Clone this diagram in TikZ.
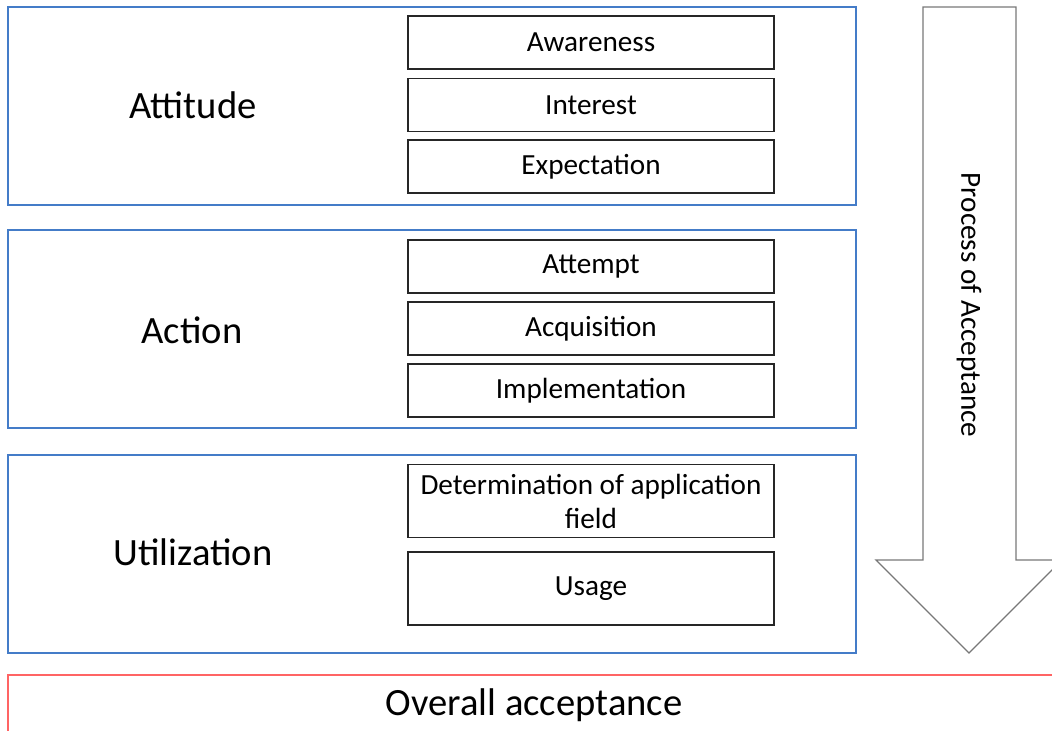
\documentclass[tikz,border=0pt]{standalone}
\usepackage{fontspec}
\setmainfont{Carlito}
\usetikzlibrary{positioning}

\definecolor{stageblue}{RGB}{68,124,200}
\definecolor{totalred}{RGB}{255,100,100}
\definecolor{arrowgray}{RGB}{120,120,120}

\tikzset{
	stage/.style={shape=rectangle, draw=stageblue, line width=0.65pt, minimum width=424pt, minimum height=99pt},
	step box/.style={shape=rectangle, draw=black!85, line width=0.75pt, minimum width=183pt, minimum height=26.5pt, align=center, font=\fontsize{14.6}{17}\selectfont},
	stage label/.style={font=\fontsize{19.3}{23}\selectfont},
}

\begin{document}
\begin{tikzpicture}[x=0.5pt, y=-0.5pt]
	\useasboundingbox (0,0) rectangle (1052,731);
	\clip (0,0) rectangle (1052,731);

	% stages
	\node[stage] (attitude) at (432, 106) {};
	\node[stage] (action) at (432, 329) {};
	\node[stage] (utilization) at (432, 554) {};

	\node[stage label] (attitudeLbl) at (193, 105) {Attitude};
	\node[stage label] (actionLbl) at (192, 330) {Action};
	\node[stage label] (utilizationLbl) at (193, 552) {Utilization};

	% steps of each stage
	\node[step box] (awareness) at (591, 42.5) {Awareness};
	\node[step box] (interest) at (591, 105) {Interest};
	\node[step box] (expectation) at (591, 166.5) {Expectation};

	\node[step box] (attempt) at (591, 266.5) {Attempt};
	\node[step box] (acquisition) at (591, 328.5) {Acquisition};
	\node[step box] (implementation) at (591, 390.5) {Implementation};

	\node[step box, minimum height=36.5pt] (determination) at (591, 501) {Determination of application\\field};
	\node[step box, minimum height=36.5pt] (usage) at (591, 588.5) {Usage};

	% process arrow
	\draw[arrowgray, line width=0.65pt, line join=miter]
		(923,7) -- (1016,7) -- (1016,560) -- (1062,560) -- (969,653) -- (876,560) -- (923,560) -- cycle;
	\node[rotate=-90, font=\fontsize{14.6}{17}\selectfont] (process) at (969, 305) {Process of Acceptance};

	% overall
	\draw[totalred, line width=0.65pt] (8,740) -- (8,675) -- (1060,675) -- (1060,740);
	\node[stage label] (overall) at (534, 705) {Overall acceptance};
\end{tikzpicture}
\end{document}
